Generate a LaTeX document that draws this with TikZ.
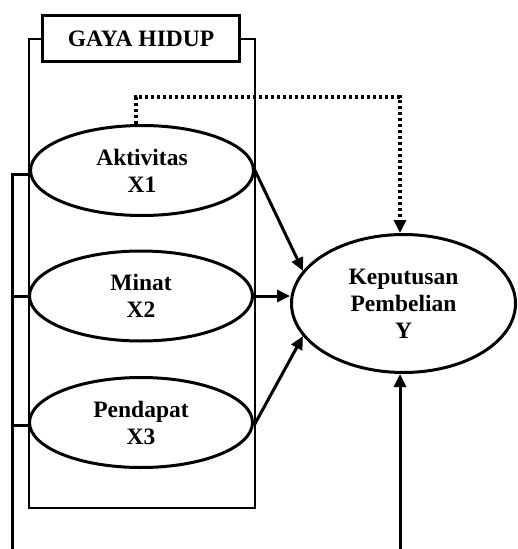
\documentclass[tikz,border=0pt]{standalone}
\usepackage{fontspec}
\setmainfont{Liberation Serif}
\usetikzlibrary{arrows.meta,shapes.geometric}
\tikzset{
  var/.style={draw,ellipse,fill=white,line width=3pt,minimum width=223pt,minimum height=90pt,
              inner sep=0pt,align=center,font=\fontsize{23.5}{27}\selectfont\bfseries},
  frame/.style={draw,line width=1.2pt,minimum width=226pt,minimum height=469pt,inner sep=0pt},
  title/.style={draw,fill=white,line width=3pt,minimum width=197pt,minimum height=46pt,
                font=\fontsize{23.5}{27}\selectfont\bfseries},
  arr/.style={-{Triangle[length=13pt,width=12pt]},line width=3pt},
  dotline/.style={-{Triangle[length=13pt,width=12pt]},line width=3.3pt,dash pattern=on 3.3pt off 2.7pt},
}
\begin{document}
\begin{tikzpicture}[x=1pt,y=1pt]
  \useasboundingbox (0,0) rectangle (517,-549);
  \node[frame] (gaya) at (142,-273.5) {};
  \node[title] (judul) at (141,-38.5) {GAYA HIDUP};
  \node[var] (akt) at (142,-170.5) {Aktivitas\\X1};
  \node[var] (min) at (141,-296) {Minat\\X2};
  \node[var] (pen) at (141,-422.5) {Pendapat\\X3};
  \node[var,minimum width=224pt,minimum height=138pt] (kep) at (403.5,-303.5) {Keputusan\\Pembelian\\Y};
  \coordinate (kiri) at (12,-549);
  \coordinate (bawah) at (400,-549);
  % garis kiri
  \draw[line width=3pt] (kiri) |- ([yshift=-4pt]akt.west);
  \draw[line width=3pt] (min.west) -- (min.west -| kiri);
  \draw[line width=3pt] ([yshift=-3pt]pen.west) -- ([yshift=-3pt]pen.west -| kiri);
  % panah ke Y
  \draw[arr] (akt.east) -- (kep.162);
  \draw[arr] (min.east) -- (min.east -| kep.west);
  \draw[arr] ([yshift=-3pt]pen.east) -- (kep.198);
  \draw[arr] (bawah) -- (bawah |- kep.south);
  \draw[dotline] ([xshift=-6pt]akt.north) -- ++(0,27) -| (bawah |- kep.north);
\end{tikzpicture}
\end{document}
